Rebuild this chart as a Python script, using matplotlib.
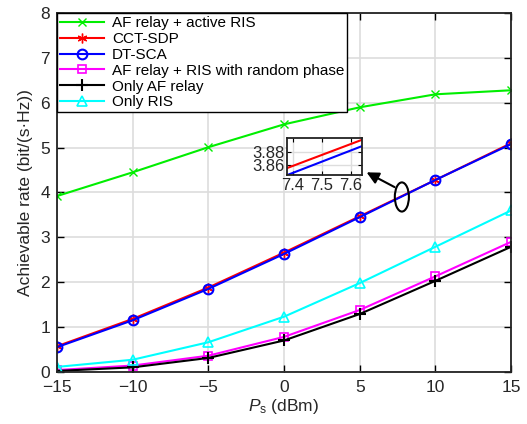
import matplotlib
matplotlib.use('Agg')
import matplotlib.pyplot as plt
from matplotlib.patches import Ellipse

plt.rcParams['font.family'] = ['Liberation Sans', 'DejaVu Sans']
plt.rcParams['mathtext.fontset'] = 'custom'
plt.rcParams['mathtext.rm'] = 'Liberation Sans'
plt.rcParams['mathtext.it'] = 'Liberation Sans:italic'

# dados
ps = [-15, -10, -5, 0, 5, 10, 15]
af_active_ris = [3.92, 4.45, 5.01, 5.52, 5.90, 6.19, 6.28]
cct_sdp = [0.57, 1.18, 1.88, 2.66, 3.47, 4.28, 5.10]
dt_sca = [0.55, 1.15, 1.85, 2.63, 3.45, 4.28, 5.08]
af_random_ris = [0.04, 0.14, 0.36, 0.78, 1.38, 2.13, 2.90]
only_af = [0.02, 0.10, 0.31, 0.70, 1.29, 2.03, 2.79]
only_ris = [0.11, 0.27, 0.66, 1.23, 1.98, 2.79, 3.60]

txt = '#262626'

fig = plt.figure(figsize=(5.27, 4.24), dpi=100)
ax = fig.add_axes([0.108, 0.123, 0.862, 0.846])

lw = 1.5
ax.plot(ps, af_active_ris, color='#00ee00', marker='x', ms=6, lw=lw, label='AF relay + active RIS')
ax.plot(ps, cct_sdp, color='red', marker=(6, 2, 0), ms=7, lw=lw, label='CCT-SDP')
ax.plot(ps, dt_sca, color='blue', marker='o', ms=7, mfc='none', mew=1.5, lw=lw, label='DT-SCA')
ax.plot(ps, af_random_ris, color='magenta', marker='s', ms=6, mfc='none', mew=1.2, lw=lw,
        label='AF relay + RIS with random phase')
ax.plot(ps, only_af, color='black', marker='+', ms=8, mew=1.5, lw=lw, label='Only AF relay')
ax.plot(ps, only_ris, color='cyan', marker='^', ms=7, mfc='none', mew=1.2, lw=lw, label='Only RIS')

ax.set_xlim(-15, 15)
ax.set_ylim(0, 8)
ax.set_xticks(range(-15, 16, 5))
ax.set_xticklabels(['\u221215', '\u221210', '\u22125', '0', '5', '10', '15'])
ax.set_yticks(range(0, 9))
ax.tick_params(direction='in', top=True, right=True, labelsize=12.5, length=5, width=1,
               labelcolor=txt)
ax.tick_params(axis='x', pad=6)
ax.tick_params(axis='y', pad=5)
ax.grid(color='#dddddd', linewidth=1.2)
ax.set_axisbelow(True)
for s in ax.spines.values():
    s.set_linewidth(1.3)
    s.set_color('#222222')

ax.set_xlabel(r'$P_\mathrm{s}$ (dBm)', fontsize=12.5, labelpad=1, color=txt)
ax.set_ylabel('Achievable rate (bit/(s\u00b7Hz))', fontsize=12.5, labelpad=5, color=txt)

leg = ax.legend(loc='upper left', fontsize=11, fancybox=False, framealpha=1,
                edgecolor='black', borderpad=0.2, labelspacing=0.12, handlelength=2.9,
                handletextpad=0.5, borderaxespad=0)
leg.get_frame().set_linewidth(1.0)

# elipse e seta apontando para o zoom
ax.add_patch(Ellipse((7.78, 3.9), 0.93, 0.65, fill=False, edgecolor='black', lw=1.5, zorder=5))
ax.annotate('', xy=(5.45, 4.45), xytext=(7.3, 4.12),
            arrowprops=dict(arrowstyle='-|>', color='black', lw=1.5, mutation_scale=18,
                            shrinkA=0, shrinkB=0), zorder=5)

# inset
axin = fig.add_axes([0.545, 0.587, 0.142, 0.087])
axin.plot(ps, cct_sdp, color='red', lw=lw)
axin.plot(ps, dt_sca, color='blue', lw=lw)
axin.set_xlim(7.38, 7.64)
axin.set_ylim(3.845, 3.9)
axin.set_xticks([7.4, 7.5, 7.6])
axin.set_yticks([3.86, 3.88])
axin.tick_params(direction='in', top=True, right=True, labelsize=12, length=3, pad=2,
                 labelcolor=txt)
axin.grid(color='#dddddd', linewidth=1)
for s in axin.spines.values():
    s.set_linewidth(1.3)
    s.set_color('#222222')

fig.savefig('out.png', dpi=100)
